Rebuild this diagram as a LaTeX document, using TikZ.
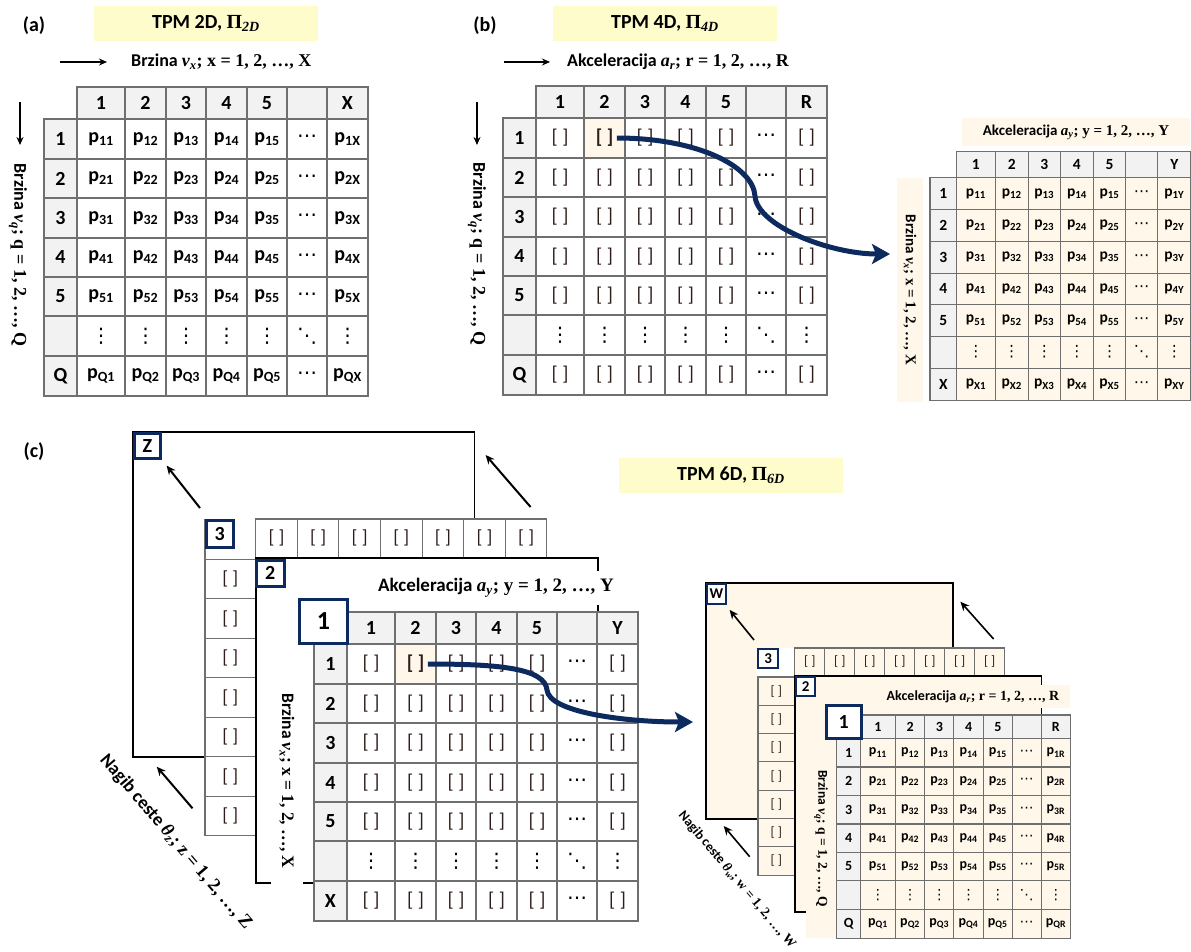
\documentclass[tikz,border=0pt]{standalone}
\usepackage{fontspec}
\setmainfont{Carlito}
\newfontfamily\mth{Liberation Serif}
\newfontfamily\djv{DejaVu Sans}
\usetikzlibrary{arrows.meta}
\definecolor{cn}{HTML}{0C2A5E}
\definecolor{cy}{HTML}{FFFCCB}
\definecolor{cc}{HTML}{FFF8EA}
\definecolor{cl}{HTML}{F2F2F2}
\definecolor{cg}{HTML}{6F6F6F}
\definecolor{ck}{HTML}{2E1D1A}
\newcommand{\mvar}[2]{{\mth\bfseries\itshape #1\textsubscript{#2}}}
\newcommand{\mrng}[2]{{\mth\bfseries; #1 = 1, 2, …, #2}}
\newcommand{\tpmp}{\bfseries p\textsubscript{\rl\cl}}
\newcommand{\tpmb}{\color{ck}[ ]}
% table: name, x, y, scale, cell text, last column, last row, cell fill, font size
\newcommand{\tpmtab}[9]{%
  \begin{scope}[shift={(#2,#3)}, scale=#4, every node/.style={font=\fontsize{#9}{#9}\selectfont\bfseries}]
    \foreach \c/\xa/\xb in {1/33/81,2/81/122,3/122/162,4/162/203,5/203/243,6/243/283,7/283/324} {
      \draw[tabcell, fill=cl] (\xa,0) rectangle (\xb,32);
      \node (#1-0-\c) at ({(\xa+\xb)/2},16) {\ifcase\c\or1\or2\or3\or4\or5\or\or#6\fi};}
    \foreach \r/\ya/\yb in {1/32/72,2/72/111,3/111/151,4/151/190,5/190/229,6/229/269,7/269/309} {
      \draw[tabcell, fill=cl] (0,\ya) rectangle (33,\yb);
      \node (#1-\r-0) at (16.5,{(\ya+\yb)/2}) {\ifcase\r\or1\or2\or3\or4\or5\or\or#7\fi};
      \foreach \c/\xa/\xb in {1/33/81,2/81/122,3/122/162,4/162/203,5/203/243,6/243/283,7/283/324} {
        \ifnum\r=7 \def\rl{#7}\else\edef\rl{\r}\fi
        \ifnum\c=7 \def\cl{#6}\else\edef\cl{\c}\fi
        \def\cf{#8}\def\cw{\mdseries}%
        \ifx#5\tpmb\ifnum\r=1 \ifnum\c=2 \def\cf{cc}\def\cw{}\fi\fi\fi
        \draw[tabcell, fill=\cf] (\xa,\ya) rectangle (\xb,\yb);
        \node (#1-\r-\c) at ({(\xa+\xb)/2},{(\ya+\yb)/2}) {\cw\ifnum\r=6 \ifnum\c=6 {\djv ⋱}\else{\djv ⋮}\fi\else\ifnum\c=6 {\djv ⋯}\else#5\fi\fi};}}
  \end{scope}}
\tikzset{
  tabcell/.style={draw=cg, line width=1.1pt},
  layer/.style={draw=black, line width=1.6pt},
  titlebox/.style={fill=cy, minimum width=224pt, minimum height=35pt, font=\fontsize{20}{24}\selectfont\bfseries},
  panel/.style={font=\fontsize{20}{24}\selectfont\bfseries},
  axlab/.style={inner sep=1pt, font=\fontsize{#1}{#1}\selectfont\bfseries},
  axlab/.default=18,
  brk/.style={text=ck, font=\fontsize{#1}{#1}\selectfont},
  brk/.default=19,
  numbox/.style={draw=cn, line width=2.6pt, fill=white, inner sep=0pt, anchor=north west, font=\fontsize{#1}{#1}\selectfont\bfseries},
  numbox/.default=20,
  axarrow/.style={line width=1.8pt, -{Stealth[length=8pt,width=7pt]}},
  stackarrow/.style={line width=2pt, -{Stealth[length=9pt,width=8pt]}},
  flow/.style={draw=cn, line width=5pt, -{Stealth[length=18pt,width=20pt,inset=4pt]}}
}
\begin{document}
\begin{tikzpicture}[x=1pt,y=-1pt]
  \useasboundingbox (0,0) rectangle (1191,951);
  % (a) TPM 2D
  \node[panel] (pa) at (34,26) {(a)};
  \node[titlebox] (ta) at (206,23.5) {TPM 2D, {\mth Π\textsubscript{\itshape 2D}}};
  \node[axlab, anchor=west] (ax) at (130,62) {Brzina \mvar{v}{x}\mrng{x}{X}};
  \draw[axarrow] ([xshift=-70pt]ax.west) -- ([xshift=-23pt]ax.west);
  \node[axlab, rotate=-90] (aq) at (18,255) {Brzina \mvar{v}{q}\mrng{q}{Q}};
  \draw[axarrow] ([shift={(2,-153)}]aq.center) -- ([shift={(2,-110)}]aq.center);
  \tpmtab{a}{44}{87}{1}{\tpmp}{X}{Q}{white}{20}
  % (b) TPM 4D
  \node[panel] (pb) at (485,26) {(b)};
  \node[titlebox] (tb) at (665,23.5) {TPM 4D, {\mth Π\textsubscript{\itshape 4D}}};
  \node[axlab, anchor=west] (br) at (566,62) {Akceleracija \mvar{a}{r}\mrng{r}{R}};
  \draw[axarrow] ([xshift=-62pt]br.west) -- ([xshift=-16pt]br.west);
  \node[axlab, rotate=-90] (bq) at (477,254) {Brzina \mvar{v}{q}\mrng{q}{Q}};
  \draw[axarrow] ([shift={(0,-152)}]bq.center) -- ([shift={(0,-109)}]bq.center);
  \tpmtab{b}{503}{86}{1}{\tpmb}{R}{Q}{white}{20}
  \node[axlab=15, fill=cc, minimum width=228pt, minimum height=28pt] (bay) at (1076,132) {Akceleracija \mvar{a}{y}\mrng{y}{Y}};
  \node[axlab=15, fill=cc, rotate=-90, minimum width=224pt, minimum height=26pt] (bvx) at (910,290) {Brzina \mvar{v}{x}\mrng{x}{X}};
  \tpmtab{bb}{930}{151.7}{0.805}{\tpmp}{Y}{X}{cc}{15.5}
  \coordinate (bbend) at (755,196);
  \coordinate (btip) at (890,254);
  \draw[flow] (b-1-2.east) .. controls +(80,0) and +(-2,-30) .. (bbend) .. controls +(2,30) and +(-60,0) .. (btip);
  % (c) TPM 6D
  \node[panel] (pc) at (34,452) {(c)};
  \node[titlebox] (tc) at (731,475) {TPM 6D, {\mth Π\textsubscript{\itshape 6D}}};
  % left stack, theta_z
  \draw[layer, fill=white] (133,432) rectangle (474.6,756.7);
  \coordinate (zne) at (474.6,432);
  \coordinate (zsw) at (133,756.7);
  \draw[tabcell] (205,519) -- (205,559.3);
  \foreach \i in {1,...,7} {
    \draw[tabcell, fill=white] ({255.7+41.6*(\i-1)},519) rectangle ++(41.6,38.7);
    \node[brk] (zt-\i) at ({255.7+41.6*(\i-0.5)},538.3) {[ ]};
    \draw[tabcell, fill=white] (205,{559.3+39.5*(\i-1)}) rectangle ++(50.7,39.5);
    \node[brk] (zl-\i) at (230.3,{559.3+39.5*(\i-0.5)}) {[ ]};}
  \draw[layer, fill=white] (255.7,557.7) rectangle (598,883);
  \node[axlab=19, fill=white, minimum height=34pt] (cay) at (496,588) {Akceleracija \mvar{a}{y}\mrng{y}{Y}};
  \node[axlab=17.5, fill=white, rotate=-90, minimum width=212pt, minimum height=32pt] (cvx) at (287,781) {Brzina \mvar{v}{x}\mrng{x}{X}};
  \tpmtab{c}{314}{612}{1}{\tpmb}{Y}{X}{white}{20}
  \node[numbox, minimum width=26pt, minimum height=25pt] (zbox) at (133,432) {Z};
  \node[numbox, minimum width=27pt, minimum height=27pt] (z3) at (205,519) {3};
  \node[numbox, minimum width=28pt, minimum height=26pt] (z2) at (255,559) {2};
  \node[numbox=26, minimum width=48pt, minimum height=44pt, line width=3pt] (z1) at (298,598) {1};
  \draw[stackarrow] ([shift={(-5,-11)}]z3.north west) -- ([shift={(5,6)}]zbox.south east);
  \draw[stackarrow] ([shift={(56,75)}]zne) -- ([shift={(11,23)}]zne);
  \draw[stackarrow] ([shift={(59.5,51.6)}]zsw) -- ([shift={(23.8,10)}]zsw);
  \node[axlab=18.5, rotate=-49.4] (cz) at (176,842) {Nagib ceste \mvar{θ}{z}\mrng{z}{Z}};
  % right stack, theta_w
  \draw[layer, fill=cc] (705.7,583) rectangle (952.9,819);
  \coordinate (wne) at (952.9,583);
  \coordinate (wsw) at (705.7,819);
  \fill[white] (757,648) rectangle (794.8,677);
  \foreach \i in {1,...,7} {
    \draw[tabcell, fill=cc] ({794.8+29.98*(\i-1)},648) rectangle ++(29.98,28);
    \node[brk=13.5] (wt-\i) at ({794.8+29.98*(\i-0.5)},662) {[ ]};
    \draw[tabcell, fill=cc] (758,{677+28.3*(\i-1)}) rectangle ++(36.8,28.3);
    \node[brk=13.5] (wl-\i) at (776.4,{677+28.3*(\i-0.5)}) {[ ]};}
  \draw[layer, fill=cc] (795,676) rectangle (1041.6,912);
  \node[axlab=14, fill=cc, minimum width=193pt, minimum height=23pt] (war) at (973,696.5) {Akceleracija \mvar{a}{r}\mrng{r}{R}};
  \node[axlab=13.5, fill=cc, rotate=-90, minimum width=199pt, minimum height=30pt] (wvq) at (821,838.5) {Brzina \mvar{v}{q}\mrng{q}{Q}};
  \tpmtab{w}{836.8}{715}{0.722}{\tpmp}{R}{Q}{cc}{14}
  \node[numbox=15, minimum width=19pt, minimum height=20pt, line width=2.2pt] (wbox) at (705.7,583) {W};
  \node[numbox=15, minimum width=20pt, minimum height=19pt, line width=2.2pt] (w3) at (757,648) {3};
  \node[numbox=15, minimum width=19pt, minimum height=19pt, line width=2.2pt] (w2) at (795,676) {2};
  \node[numbox=20, minimum width=35pt, minimum height=33pt] (w1) at (825,704) {1};
  \draw[stackarrow, line width=1.6pt] ([shift={(-3,-8)}]w3.north west) -- ([shift={(2.7,4.7)}]wbox.south east);
  \draw[stackarrow, line width=1.6pt] ([shift={(40.7,56)}]wne) -- ([shift={(7.5,18.7)}]wne);
  \draw[stackarrow, line width=1.6pt] ([shift={(44,37.7)}]wsw) -- ([shift={(18,7)}]wsw);
  \node[axlab=13.5, rotate=-49.8] (cw) at (737,880) {Nagib ceste \mvar{θ}{w}\mrng{w}{W}};
  \coordinate (cbend) at (547,690);
  \coordinate (ctip) at (693,722);
  \draw[flow] (c-1-2.east) .. controls +(70,0) and +(-2,-22) .. (cbend) .. controls +(2,22) and +(-70,0) .. (ctip);
\end{tikzpicture}
\end{document}
